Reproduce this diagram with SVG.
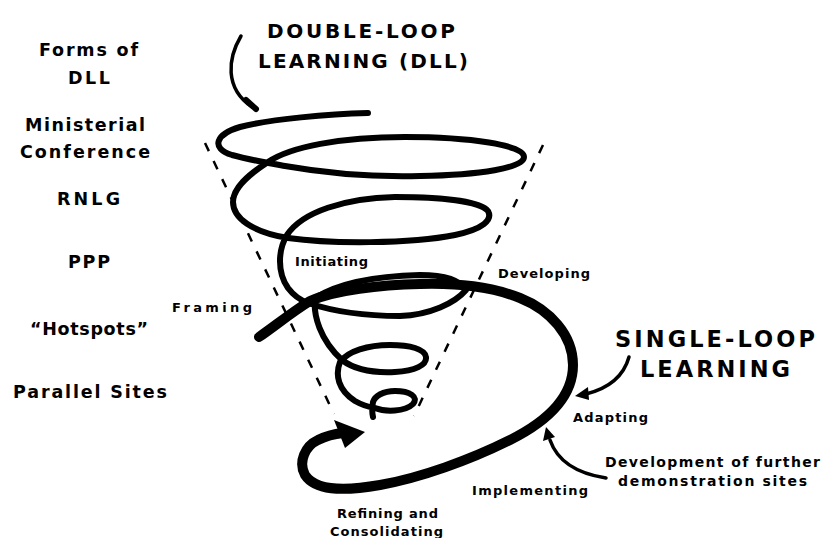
<svg xmlns="http://www.w3.org/2000/svg" width="822" height="538" viewBox="0 0 822 538">
<style>
.t{font-family:"DejaVu Sans","Liberation Sans",sans-serif;font-weight:bold;fill:#000}
.left{font-size:17.5px}
.stage{font-size:13px}
.note{font-size:14px}
.title1{font-size:20px}
.title2{font-size:22.5px}
.thin{fill:none;stroke:#000;stroke-width:6;stroke-linecap:round;stroke-linejoin:round}
.thick{fill:none;stroke:#000;stroke-width:10;stroke-linecap:round;stroke-linejoin:round}
.dash{fill:none;stroke:#000;stroke-width:2.5;stroke-dasharray:9 11}
.ptr{fill:none;stroke:#000;stroke-width:3.5;stroke-linecap:round}
</style>
<rect width="822" height="538" fill="#fff"/>

<g id="cone">
<path class="dash" d="M205,143 L334,414"/>
<path class="dash" d="M543,145 L414,416"/>
</g>

<g id="connectors">
<path id="helix" class="thin" d="M368,113 C330,114 270,119 240,127 C216,134 210,148 232,155 C250,160 268,163 285,166 C330,174 380,177 420,176 C480,175 524,168 524,157 C524,145 470,137 405,137 C340,137 290,147 268,162 C248,175 233,188 233,202 C233,218 252,232 288,238 C330,244 410,244 455,235 C483,229 493,220 488,211 C480,201 440,197 395,197 C345,198 302,212 287,235 C278,250 277,272 288,288 C294,296 300,300 308,303 C335,312 370,316 400,316 C430,315 455,303 466,290 C460,280 445,275 420,275 C380,276 340,282 315,298 C313,315 320,340 342,360 C355,370 375,373 395,372 C415,371 427,365 426,357 C425,349 410,345 390,345 C368,345 348,351 340,362 C335,375 338,390 355,401 C362,405 368,407 375,408 C385,412 405,412 413,404 C419,397 410,391 395,391 C383,391 375,396 373,402 C372,408 372,413 373,417"/>
<path id="single-loop" class="thick" d="M259,337 C275,326 292,312 310,301 C335,290 380,285 420,284 C455,283 490,286 520,298 C550,310 573,335 573,365 C573,395 550,420 510,440 C470,460 420,478 380,485 C340,492 315,490 305,475 C298,462 305,446 318,440 C326,436 334,434 343,433"/>
<polygon points="334,420 365,432 345,448" fill="#000"/>
<path id="dll-pointer" class="ptr" d="M241,36 C228,58 224,88 252,107"/>
<path d="M246,100 L256,109" stroke="#000" stroke-width="6" stroke-linecap="round"/>
<path id="sll-pointer" class="ptr" d="M629,357 C624,375 610,388 586,394"/>
<polygon points="575,396 588,387 589,400" fill="#000"/>
<path id="dev-pointer" class="ptr" d="M606,478 C580,474 558,463 550,440"/>
<polygon points="546,427 555,437 543,441" fill="#000"/>
</g>

<g id="title-dll">
<text class="t title1" x="267" y="38" textLength="188">DOUBLE-LOOP</text>
<text class="t title1" x="258" y="68" textLength="210">LEARNING (DLL)</text>
</g>
<g id="title-sll">
<text class="t title2" x="615" y="347" textLength="200">SINGLE-LOOP</text>
<text class="t title2" x="640" y="377" textLength="150">LEARNING</text>
</g>

<g id="forms-of-dll">
<text class="t left" x="39" y="56" textLength="99">Forms of</text>
<text class="t left" x="68" y="84" textLength="42">DLL</text>
</g>
<g id="ministerial-conference">
<text class="t left" x="25" y="131" textLength="120">Ministerial</text>
<text class="t left" x="20" y="158" textLength="130">Conference</text>
</g>
<g id="rnlg"><text class="t left" x="57" y="205" textLength="63">RNLG</text></g>
<g id="ppp"><text class="t left" x="68" y="268" textLength="42">PPP</text></g>
<g id="hotspots"><text class="t left" x="30" y="335" textLength="118">“Hotspots”</text></g>
<g id="parallel-sites"><text class="t left" x="13" y="398" textLength="154">Parallel Sites</text></g>

<g id="initiating"><text class="t stage" x="295" y="266" textLength="73">Initiating</text></g>
<g id="developing"><text class="t stage" x="498" y="278" textLength="92">Developing</text></g>
<g id="framing"><text class="t stage" x="172" y="312" textLength="80">Framing</text></g>
<g id="adapting"><text class="t stage" x="573" y="422" textLength="75">Adapting</text></g>
<g id="implementing"><text class="t stage" x="472" y="495" textLength="116">Implementing</text></g>
<g id="refining">
<text class="t stage" x="337" y="518" textLength="101">Refining and</text>
<text class="t stage" x="330" y="536" textLength="113">Consolidating</text>
</g>
<g id="development">
<text class="t note" x="605" y="467" textLength="215">Development of further</text>
<text class="t note" x="618" y="486" textLength="189">demonstration sites</text>
</g>
</svg>
